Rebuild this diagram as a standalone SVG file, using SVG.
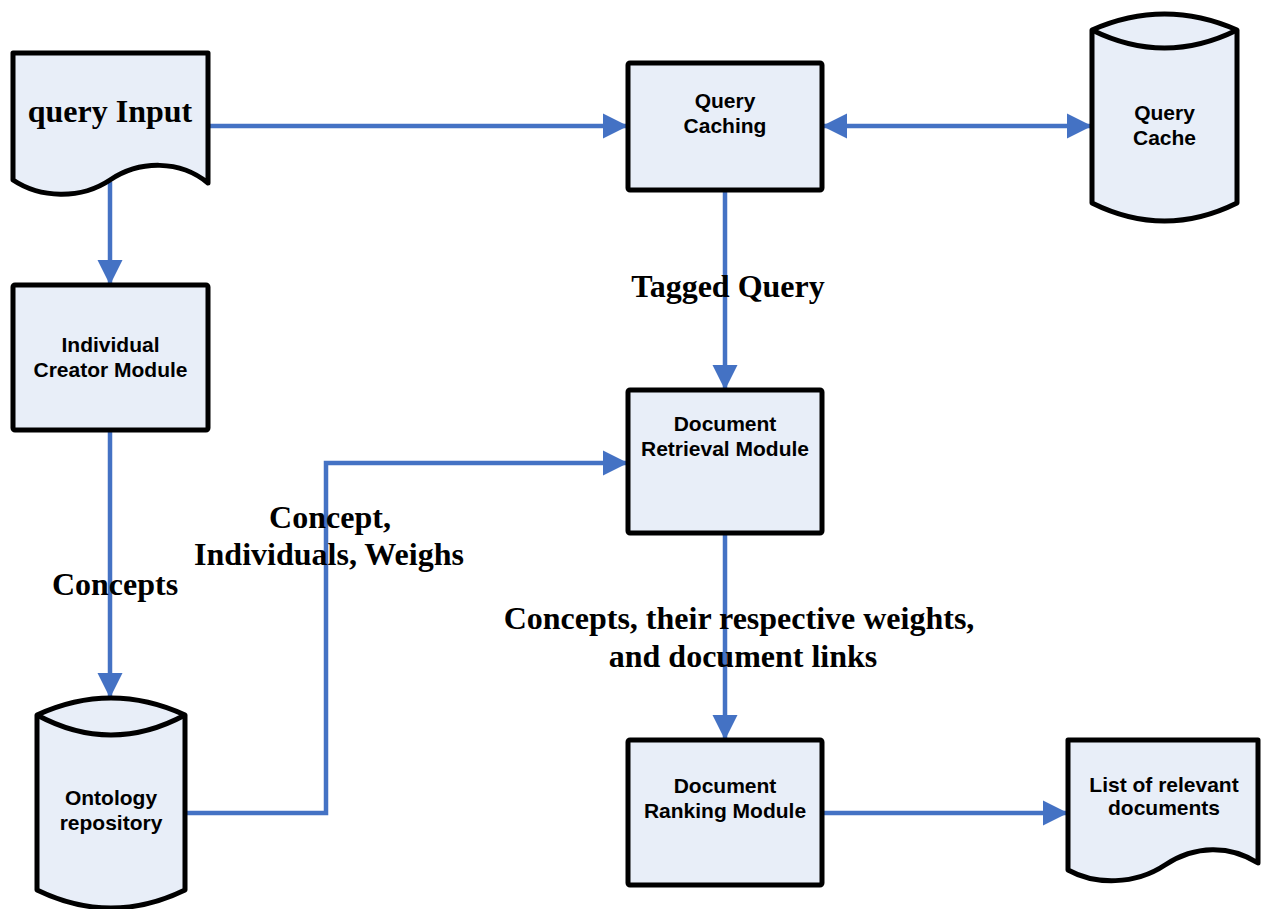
<svg xmlns="http://www.w3.org/2000/svg" width="1264" height="909" viewBox="0 0 1264 909">
<defs>
<marker id="arr" markerUnits="userSpaceOnUse" markerWidth="26" markerHeight="26" refX="25" refY="12.5" orient="auto-start-reverse" viewBox="0 0 26 25">
<path d="M0,0 L25,12.5 L0,25 Z" fill="#4472C4"/>
</marker>
</defs>
<style>
.shape{fill:#E8EEF8;stroke:#000;stroke-width:5;stroke-linejoin:round}
.edge{fill:none;stroke:#4472C4;stroke-width:4.5}
.sans{font-family:"Liberation Sans",Arial,sans-serif;font-weight:bold;font-size:21px;text-anchor:middle;fill:#000}
.serif{font-family:"Liberation Serif","Times New Roman",serif;font-weight:bold;font-size:32px;text-anchor:middle;fill:#000}
</style>
<rect width="1264" height="909" fill="#fff"/>
<g id="connectors">
<line class="edge" x1="208" y1="126" x2="628" y2="126" marker-end="url(#arr)"/>
<line class="edge" x1="822" y1="126" x2="1092" y2="126" marker-start="url(#arr)" marker-end="url(#arr)"/>
<line class="edge" x1="110" y1="182" x2="110" y2="285" marker-end="url(#arr)"/>
<line class="edge" x1="725" y1="190" x2="725" y2="390" marker-end="url(#arr)"/>
<line class="edge" x1="110" y1="430" x2="110" y2="698" marker-end="url(#arr)"/>
<path class="edge" d="M185,813 H326 V463 H628" marker-end="url(#arr)"/>
<line class="edge" x1="725" y1="533" x2="725" y2="740" marker-end="url(#arr)"/>
<line class="edge" x1="822" y1="813" x2="1068" y2="813" marker-end="url(#arr)"/>
</g>
<g id="query-input">
<path class="shape" d="M13,53 H208 V183 C180,160 140,160 110,180 C80,200 40,198 13,180 Z"/>
<text class="serif" x="110" y="122" font-size="33">query Input</text>
</g>
<g id="query-caching">
<rect class="shape" x="628" y="63" width="194" height="127" rx="2"/>
<text class="sans" x="725" y="108">Query</text>
<text class="sans" x="725" y="133">Caching</text>
</g>
<g id="query-cache">
<path class="shape" d="M1092,30 Q1164.5,-2 1237,30 V203 Q1164.5,239 1092,203 Z"/>
<path class="shape" d="M1092,30 Q1164.5,66 1237,30" fill="none"/>
<text class="sans" x="1164.5" y="120">Query</text>
<text class="sans" x="1164.5" y="145">Cache</text>
</g>
<g id="individual-creator">
<rect class="shape" x="13" y="285" width="195" height="145" rx="2"/>
<text class="sans" x="110.5" y="352">Individual</text>
<text class="sans" x="110.5" y="377">Creator Module</text>
</g>
<g id="document-retrieval">
<rect class="shape" x="628" y="390" width="194" height="143" rx="2"/>
<text class="sans" x="725" y="431">Document</text>
<text class="sans" x="725" y="456">Retrieval Module</text>
</g>
<g id="ontology-repository">
<path class="shape" d="M37,715 Q111,681 185,715 V890 Q111,926 37,890 Z"/>
<path class="shape" d="M37,715 Q111,755 185,715" fill="none"/>
<text class="sans" x="111" y="805">Ontology</text>
<text class="sans" x="111" y="830">repository</text>
</g>
<g id="document-ranking">
<rect class="shape" x="628" y="740" width="194" height="145" rx="2"/>
<text class="sans" x="725" y="793">Document</text>
<text class="sans" x="725" y="818">Ranking Module</text>
</g>
<g id="relevant-documents">
<path class="shape" d="M1068,740 H1258 V863 C1230,845 1195,845 1165,865 C1135,885 1095,885 1068,870 Z"/>
<text class="sans" x="1164" y="792">List of relevant</text>
<text class="sans" x="1164" y="815">documents</text>
</g>
<g id="labels">
<text class="serif" x="728" y="297">Tagged Query</text>
<text class="serif" x="115" y="595">Concepts</text>
<text class="serif" x="330" y="528">Concept,</text>
<text class="serif" x="329" y="565">Individuals, Weighs</text>
<text class="serif" x="739" y="629">Concepts, their respective weights,</text>
<text class="serif" x="743" y="667">and document links</text>
</g>
</svg>
